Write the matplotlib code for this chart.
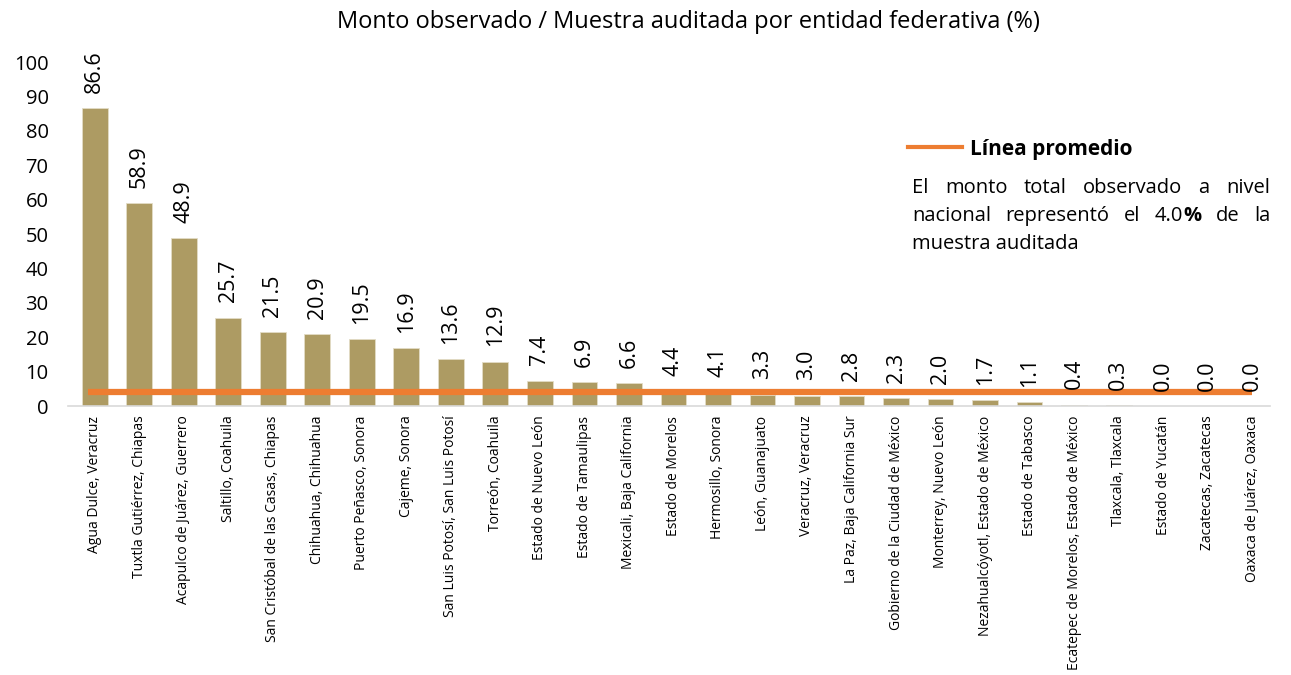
import matplotlib.pyplot as plt

# Datos del grafico
entidades = [
    "Agua Dulce, Veracruz", "Tuxtla Gutiérrez, Chiapas", "Acapulco de Juárez, Guerrero",
    "Saltillo, Coahuila", "San Cristóbal de las Casas, Chiapas", "Chihuahua, Chihuahua",
    "Puerto Peñasco, Sonora", "Cajeme, Sonora", "San Luis Potosí, San Luis Potosí",
    "Torreón, Coahuila", "Estado de Nuevo León", "Estado de Tamaulipas",
    "Mexicali, Baja California", "Estado de Morelos", "Hermosillo, Sonora",
    "León, Guanajuato", "Veracruz, Veracruz", "La Paz, Baja California Sur",
    "Gobierno de la Ciudad de México", "Monterrey, Nuevo León",
    "Nezahualcóyotl, Estado de México", "Estado de Tabasco",
    "Ecatepec de Morelos, Estado de México", "Tlaxcala, Tlaxcala",
    "Estado de Yucatán", "Zacatecas, Zacatecas", "Oaxaca de Juárez, Oaxaca",
]
porcentajes = [86.6, 58.9, 48.9, 25.7, 21.5, 20.9, 19.5, 16.9, 13.6, 12.9, 7.4, 6.9,
               6.6, 4.4, 4.1, 3.3, 3.0, 2.8, 2.3, 2.0, 1.7, 1.1, 0.4, 0.3, 0.0, 0.0, 0.0]
promedio = 4.0
yticks = [0, 10, 20, 30, 40, 50, 60, 70, 80, 90, 100]

plt.rcParams["font.family"] = ["Open Sans", "DejaVu Sans"]

fig = plt.figure(figsize=(12.91, 6.75), dpi=100)
ax = fig.add_axes([0.0527, 0.3985, 0.931, 0.5095])

x = list(range(len(entidades)))
ax.bar(x, porcentajes, width=0.58, color="#AD9B63", edgecolor="#E3DCC6", linewidth=0.6, zorder=2)
ax.plot([x[0] - 0.15] + x[1:], [promedio] * len(x), color="#ED7D31", linewidth=4.5,
        solid_capstyle="butt", zorder=3)

for xi, v in zip(x, porcentajes):
    ax.annotate(f"{v:.1f}", (xi, v), xytext=(0, 11), textcoords="offset points",
                rotation=90, ha="center", va="bottom", fontsize=15.5)

ax.set_xlim(-0.6, 26.4)
ax.set_ylim(0, 100)
ax.set_yticks(yticks)
ax.tick_params(axis="y", length=0, labelsize=14.5, pad=14)
ax.set_xticks(x)
ax.set_xticklabels(entidades, rotation=90, fontsize=10)
ax.tick_params(axis="x", length=0, pad=7)
for s in ["top", "right", "left"]:
    ax.spines[s].set_visible(False)
ax.spines["bottom"].set_color("#D9D9D9")
ax.spines["bottom"].set_linewidth(1.2)

fig.text(688 / 1291, 0.967, "Monto observado / Muestra auditada por entidad federativa (%)",
         ha="center", va="center", fontsize=17)

# Leyenda manual
fig.add_artist(plt.Line2D([908 / 1291, 962 / 1291], [1 - 147 / 675] * 2,
                          color="#ED7D31", linewidth=3))
fig.text(970 / 1291, 1 - 149 / 675, "Línea promedio", fontsize=15, fontweight="bold",
         ha="left", va="center")

# Parrafo justificado
fig.canvas.draw()
renderer = fig.canvas.get_renderer()
x0, x1 = 912, 1270
lineas = [
    [("El",), ("monto",), ("total",), ("observado",), ("a",), ("nivel",)],
    [("nacional",), ("representó",), ("el",), ("4.0", "%"), ("de",), ("la",)],
    [("muestra auditada",)],
]
ys = [188, 216, 244]
for palabras, yl in zip(lineas, ys):
    grupos = []
    for p in palabras:
        piezas = []
        t = fig.text(0, 1 - yl / 675, p[0], fontsize=14.5, ha="left", va="center")
        piezas.append((t, t.get_window_extent(renderer).width))
        if len(p) == 2:
            t2 = fig.text(0, 1 - yl / 675, p[1], fontsize=14.5, fontweight="bold",
                          ha="left", va="center")
            piezas.append((t2, t2.get_window_extent(renderer).width))
        grupos.append(piezas)
    anchos = [sum(w for _, w in g) for g in grupos]
    hueco = (x1 - x0 - sum(anchos)) / (len(grupos) - 1) if len(grupos) > 1 else 0
    pos = x0
    for g, w in zip(grupos, anchos):
        px = pos
        for t, wi in g:
            t.set_x(px / 1291)
            px += wi
        pos += w + hueco

fig.savefig("out.png", dpi=100)
